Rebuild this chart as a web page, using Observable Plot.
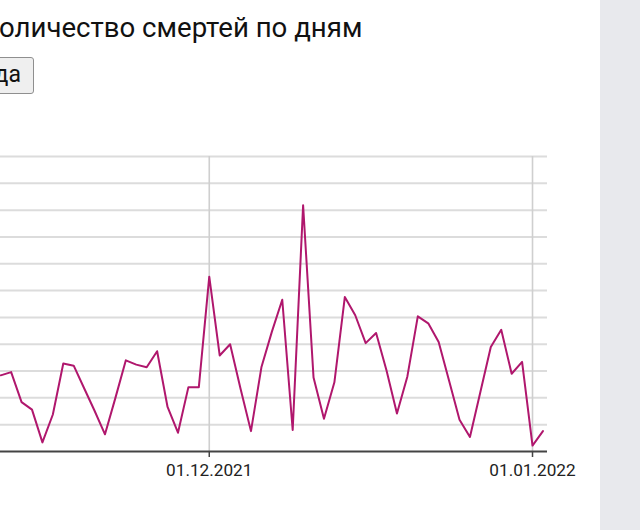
<!DOCTYPE html>
<html>
<head>
<meta charset="utf-8">
<script src="https://cdn.jsdelivr.net/npm/d3@7"></script>
<script src="https://cdn.jsdelivr.net/npm/@observablehq/plot@0.6"></script>
<style>
  html, body { margin: 0; padding: 0; background: #fff; overflow: hidden; }
  body { width: 640px; height: 530px; position: relative; font-family: Roboto, "Noto Sans", sans-serif; }
  #title { position: absolute; top: 14px; font-size: 27.6px; line-height: 1; color: #111; white-space: nowrap; }
  #btn { position: absolute; top: 57px; height: 37px; font-family: Roboto, sans-serif; font-size: 23px; color: #111;
         padding: 0 12px 2px 12px; border: 1px solid #8f8f8f; border-radius: 3px; background: #efefef; white-space: nowrap; box-sizing: border-box; }
  #chart { position: absolute; left: 0; top: 140px; }
  #side { position: absolute; left: 600px; top: 0; width: 40px; height: 530px; background: #e8e9ed; }
</style>
</head>
<body>
<div id="title"><span id="first">К</span>оличество смертей по дням</div>
<button id="btn">С начала года</button>
<div id="chart"></div>
<div id="side"></div>
<script>
// Data: daily deaths (start date + consecutive days)
const startDay = "2021-11-11";
const values = [
  14.2, 14.8, 9.2, 7.8, 1.7, 6.9, 16.4, 16.0, 11.8, 7.6,
  3.2, 10.0, 17.0, 16.2, 15.7, 18.7, 8.3, 3.5, 12.0, 12.0,
  32.6, 17.9, 20.0, 11.7, 3.8, 15.7, 22.3, 28.3, 4.0, 45.9,
  13.8, 6.1, 12.9, 28.8, 25.4, 20.2, 22.1, 15.1, 7.1, 14.0,
  25.2, 23.9, 20.4, 13.2, 5.9, 2.7, 11.1, 19.5, 22.7, 14.5,
  16.7, 1.1, 3.8
];
const xTickLabels = ["2021-12-01", "2022-01-01"];
const yTicks = [0, 5, 10, 15, 20, 25, 30, 35, 40, 45, 50, 55];

const start = new Date(startDay + "T00:00:00Z");
const data = values.map((v, i) => ({date: d3.utcDay.offset(start, i), value: v}));
const xTicks = xTickLabels.map(s => new Date(s + "T00:00:00Z"));
const fmt = d3.utcFormat("%d.%m.%Y");

const chart = Plot.plot({
  width: 600,
  height: 360,
  marginLeft: 0,
  marginRight: 53,
  marginTop: 16,
  marginBottom: 49,
  style: {fontFamily: "Roboto, sans-serif", color: "#222", background: "transparent", overflow: "visible"},
  x: {type: "utc", domain: [new Date("2021-11-10T23:30:00Z"), new Date("2022-01-02T10:30:00Z")], axis: null},
  y: {domain: [0, 55], axis: null},
  marks: [
    Plot.gridY(yTicks.slice(1), {stroke: "#dcdcdc", strokeWidth: 2, strokeOpacity: 1}),
    Plot.gridX(xTicks, {stroke: "#cfcfcf", strokeWidth: 1.6, strokeOpacity: 1}),
    Plot.ruleY([0], {stroke: "#444", strokeWidth: 2}),
    Plot.axisX(xTicks, {tickSize: 6, tickPadding: 6, fontSize: 17.2, tickFormat: fmt, stroke: "#444", strokeWidth: 1.5, fill: "#222"}),
    Plot.lineY(data, {x: "date", y: "value", stroke: "#b0176d", strokeWidth: 2})
  ]
});
document.getElementById("chart").appendChild(chart);

// position title so that first letter falls off the left edge
const w = document.getElementById("first").getBoundingClientRect().width;
document.getElementById("title").style.left = (-w - 1) + "px";
const btn = document.getElementById("btn");
btn.style.left = (34 - btn.getBoundingClientRect().width) + "px";
</script>
</body>
</html>
